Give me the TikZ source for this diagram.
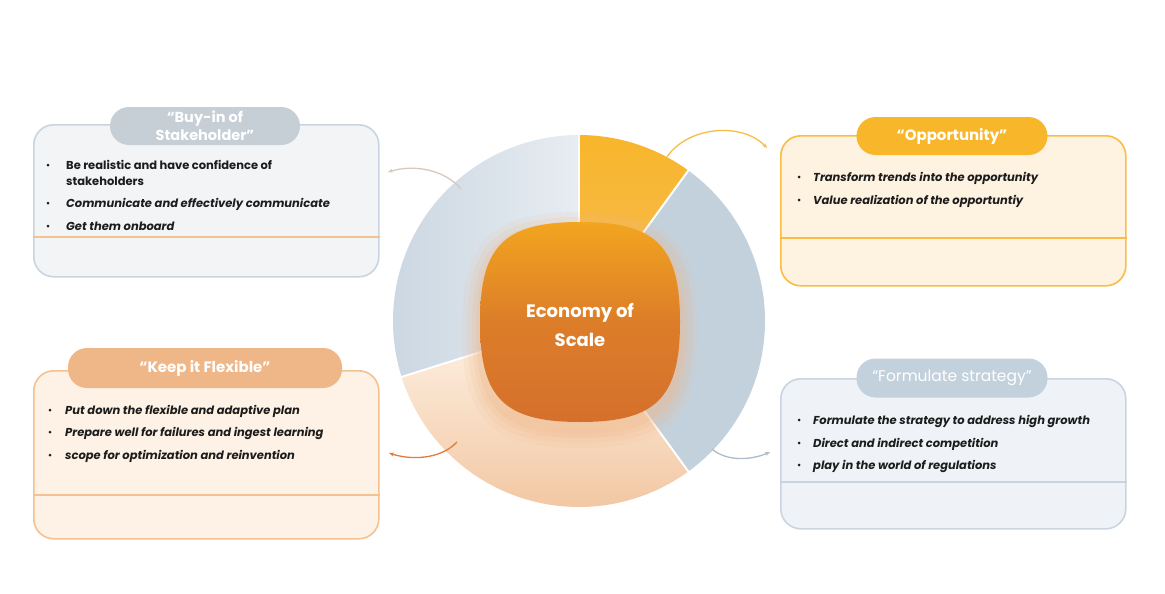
\documentclass[tikz,border=0pt]{standalone}
\usepackage{fontspec}
\newfontfamily\pop{Poppins}
\usetikzlibrary{arrows.meta,calc}
\definecolor{gold}{HTML}{F8B62B}
\definecolor{goldline}{HTML}{F9BC45}
\definecolor{goldfill}{HTML}{FEF2E0}
\definecolor{bluegray}{HTML}{C3D1DD}
\definecolor{blueline}{HTML}{C8D5E1}
\definecolor{bluefill}{HTML}{EFF3F7}
\definecolor{peach}{HTML}{EFB788}
\definecolor{peachline}{HTML}{F4C291}
\definecolor{peachfill}{HTML}{FDF2E5}
\definecolor{grayfill}{HTML}{F3F4F5}
\definecolor{pillgray}{HTML}{C6CED6}
\definecolor{txt}{HTML}{1C1C1C}
\definecolor{orangeA}{HTML}{F2A51F}
\definecolor{orangeB}{HTML}{D5702C}
\definecolor{arrowor}{HTML}{E17C3A}
\definecolor{leftseg}{HTML}{CAD6E1}
\tikzset{
  panel/.style={rectangle, rounded corners=20pt, line width=1.6pt, anchor=north west, inner sep=0pt},
  pill/.style={rectangle, rounded corners=19pt, inner sep=0pt, text=white, font=\pop\bfseries\fontsize{15}{18}\selectfont, align=center},
  dotnode/.style={circle, inner sep=0pt, minimum size=3pt, fill=txt},
  btxt/.style={inner sep=0pt, anchor=base west, text=txt, font=\pop\bfseries\itshape\fontsize{11.5}{14}\selectfont},
  btxtup/.style={btxt, font=\pop\bfseries\fontsize{11.5}{14}\selectfont},
  conn/.style={line width=1.3pt, -{Stealth[length=5pt,width=4pt]}},
}
\begin{document}
\begin{tikzpicture}[x=1pt,y=-1pt]
\useasboundingbox (0,0) rectangle (1165,594);
\fill[white] (0,0) rectangle (1165,594);

% ---------- pie ----------
\coordinate (C) at (579,321);
\shade[left color=leftseg, right color=leftseg!45!white]
  (C) -- ++(162.5:186) arc[start angle=162.5, end angle=270, radius=186] -- cycle;
\shade[top color=gold, bottom color=orangeA!75!white]
  (C) -- ++(-90:186) arc[start angle=-90, end angle=-54, radius=186] -- cycle;
\fill[bluegray]
  (C) -- ++(-54:186) arc[start angle=-54, end angle=54, radius=186] -- cycle;
\shade[top color=peachfill, bottom color=peach!80!white]
  (C) -- ++(54:186) arc[start angle=54, end angle=162.5, radius=186] -- cycle;
\foreach \a in {-90,-54,54,162.5}
  \draw[white, line width=2pt] (C) -- ++(\a:187);

% ---------- centre ----------
\coordinate (K) at (580,322);
\coordinate (KG) at (580,330);
\foreach \sz/\op in {118/0.10,113/0.14,108/0.18,104/0.22}{
  \fill[peach, opacity=\op] (KG) ++(\sz,0)
    .. controls +(0,0.76*\sz) and +(0.76*\sz,0) .. ++(-\sz,\sz)
    .. controls +(-0.76*\sz,0) and +(0,0.76*\sz) .. ++(-\sz,-\sz)
    .. controls +(0,-0.76*\sz) and +(-0.76*\sz,0) .. ++(\sz,-\sz)
    .. controls +(0.76*\sz,0) and +(0,-0.76*\sz) .. ++(\sz,\sz) -- cycle;
}
\shade[top color=orangeA, bottom color=orangeB, middle color=orangeB!75!orangeA]
  (K) ++(100,0)
    .. controls +(0,76) and +(76,0) .. ++(-100,100)
    .. controls +(-76,0) and +(0,76) .. ++(-100,-100)
    .. controls +(0,-76) and +(-76,0) .. ++(100,-100)
    .. controls +(76,0) and +(0,-76) .. ++(100,100) -- cycle;
\node (core) [text=white, font=\pop\bfseries\fontsize{18}{29}\selectfont, align=center] at (580,325) {Economy of\\Scale};

% ---------- panels ----------
% Buy-in
\node (buyBox) [panel, draw=blueline, fill=grayfill, minimum width=345pt, minimum height=152pt] at (33,124) {};
\draw[peachline, line width=1.4pt] (buyBox.west |- 0,237) -- (buyBox.east |- 0,237);
\node (buyPill) [pill, fill=pillgray, minimum width=190pt, minimum height=38pt, font=\pop\bfseries\fontsize{14.5}{17.5}\selectfont] at (205,126) {“Buy-in of\\Stakeholder”};
\node (bd1) [dotnode] at (48,165) {};
\node (bt1) [btxtup] at (66,169.5) {Be realistic and have confidence of};
\node (bt1b) [btxtup] at (66,185.5) {stakeholders};
\node (bd2) [dotnode] at (48,203) {};
\node (bt2) [btxt] at (66,207.5) {Communicate and effectively communicate};
\node (bd3) [dotnode] at (48,226) {};
\node (bt3) [btxt] at (66,230.5) {Get them onboard};

% Opportunity
\node (oppBox) [panel, draw=goldline, fill=goldfill, minimum width=345pt, minimum height=150pt] at (780,135) {};
\draw[goldline, line width=1.6pt] (oppBox.west |- 0,238) -- (oppBox.east |- 0,238);
\node (oppPill) [pill, fill=gold, minimum width=191pt, minimum height=38pt, font=\pop\bfseries\fontsize{15}{18}\selectfont] at (952,136) {“Opportunity”};
\node (od1) [dotnode] at (799,177) {};
\node (ot1) [btxt] at (813,181.5) {Transform trends into the opportunity};
\node (od2) [dotnode] at (799,200) {};
\node (ot2) [btxt] at (813,204.5) {Value realization of the opportuntiy};

% Keep it flexible
\node (flexBox) [panel, draw=peachline, fill=peachfill, minimum width=345pt, minimum height=168pt] at (33,370) {};
\draw[peachline, line width=1.6pt] (flexBox.west |- 0,495) -- (flexBox.east |- 0,495);
\node (flexPill) [pill, fill=peach, minimum width=274pt, minimum height=40pt] at (205,368) {“Keep it Flexible”};
\node (fd1) [dotnode] at (50,410) {};
\node (ft1) [btxt] at (65,414.5) {Put down the flexible and adaptive plan};
\node (fd2) [dotnode] at (50,432) {};
\node (ft2) [btxt] at (65,436.5) {Prepare well for failures and ingest learning};
\node (fd3) [dotnode] at (50,455) {};
\node (ft3) [btxt] at (65,459.5) {scope for optimization and reinvention};

% Formulate strategy
\node (stratBox) [panel, draw=blueline, fill=bluefill, minimum width=345pt, minimum height=150pt] at (780,378) {};
\draw[blueline, line width=1.6pt] (stratBox.west |- 0,482) -- (stratBox.east |- 0,482);
\node (stratPill) [pill, fill=bluegray, minimum width=191pt, minimum height=39pt, font=\pop\fontsize{15.5}{18}\selectfont] at (952,378) {“Formulate strategy”};
\node (sd1) [dotnode] at (799,420) {};
\node (st1) [btxt] at (813,424.5) {Formulate the strategy to address high growth};
\node (sd2) [dotnode] at (799,443) {};
\node (st2) [btxt] at (813,447.5) {Direct and indirect competition};
\node (sd3) [dotnode] at (799,465) {};
\node (st3) [btxt] at (813,469.5) {play in the world of regulations};

% ---------- connectors ----------
\coordinate (a1s) at (667,157); \coordinate (a1e) at (767,148);
\draw[conn, draw=goldline] (a1s) .. controls (688,126) and (742,122) .. (a1e);
\coordinate (a2s) at (461,189); \coordinate (a2e) at (388,172);
\draw[conn, draw=blueline!60!peach] (a2s) .. controls (445,170) and (415,164) .. (a2e);
\coordinate (a3s) at (457,442); \coordinate (a3e) at (389,453);
\draw[conn, draw=arrowor] (a3s) .. controls (440,460) and (410,460) .. (a3e);
\coordinate (a4s) at (712,449); \coordinate (a4e) at (770,452);
\draw[conn, draw=bluegray!90!black] (a4s) .. controls (727,462) and (752,460) .. (a4e);
\end{tikzpicture}
\end{document}
